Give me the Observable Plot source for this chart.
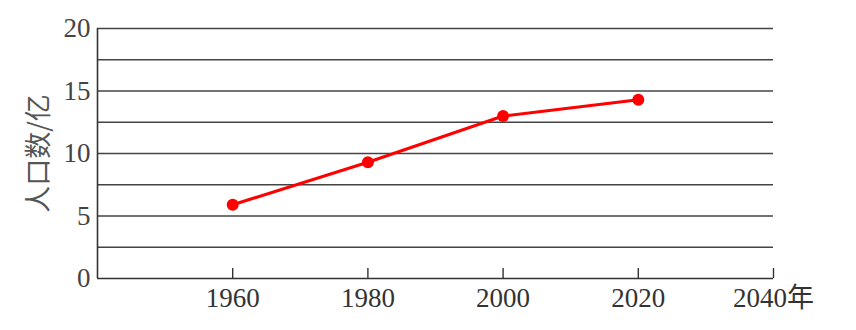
<!DOCTYPE html>
<html>
<head>
<meta charset="utf-8">
<script src="https://cdn.jsdelivr.net/npm/d3@7"></script>
<script src="https://cdn.jsdelivr.net/npm/@observablehq/plot@0.6"></script>
<style>
  html, body { margin: 0; padding: 0; background: #fff; }
  #chart svg { display: block; }
</style>
</head>
<body>
<div id="chart"></div>
<script>
const years = [1960, 1980, 2000, 2020];
const population = [5.9, 9.3, 13.0, 14.3];
const xTicks = [1960, 1980, 2000, 2020, 2040];
const yTickLabels = [0, 5, 10, 15, 20];
const yGrid = [2.5, 5, 7.5, 10, 12.5, 15, 17.5, 20];
const yLabel = "人口数/亿";
const xUnit = "年";

const data = years.map((y, i) => ({year: y, value: population[i]}));

const chart = Plot.plot({
  width: 856,
  height: 330,
  marginLeft: 97,
  marginRight: 83,
  marginTop: 28,
  marginBottom: 52,
  style: {fontFamily: "'Liberation Serif', 'Noto Sans CJK SC', serif", fontSize: "27px", color: "#333", background: "#fff"},
  x: {domain: [1940, 2040], axis: null},
  y: {domain: [0, 20], axis: null},
  marks: [
    Plot.gridY(yGrid, {stroke: "#444", strokeOpacity: 1, strokeWidth: 1.6}),
    Plot.ruleY([0], {stroke: "#333", strokeWidth: 1.6}),
    Plot.ruleX([1940], {stroke: "#333", strokeWidth: 1.6}),
    Plot.axisX({ticks: xTicks, tickSize: -10, tickFormat: () => "", stroke: "#333", strokeWidth: 1.4, label: null}),
    Plot.axisX({ticks: xTicks, tickSize: 0, tickPadding: 9, tickFormat: d => d === 2040 ? d + xUnit : String(d), fill: "#333", fontSize: 27, label: null}),
    Plot.axisY({ticks: yTickLabels, tickSize: 0, tickPadding: 7, fill: "#444", fontSize: 27, label: null}),
    Plot.text([yLabel], {frameAnchor: "left", textAnchor: "middle", dx: -58, rotate: -90, fontSize: 27, fill: "#555", fontFamily: "'Noto Sans CJK SC', sans-serif"}),
    Plot.line(data, {x: "year", y: "value", stroke: "#f00", strokeWidth: 3}),
    Plot.dot(data, {x: "year", y: "value", r: 6, fill: "#f00", stroke: "none"})
  ]
});
document.getElementById("chart").appendChild(chart);
</script>
</body>
</html>
